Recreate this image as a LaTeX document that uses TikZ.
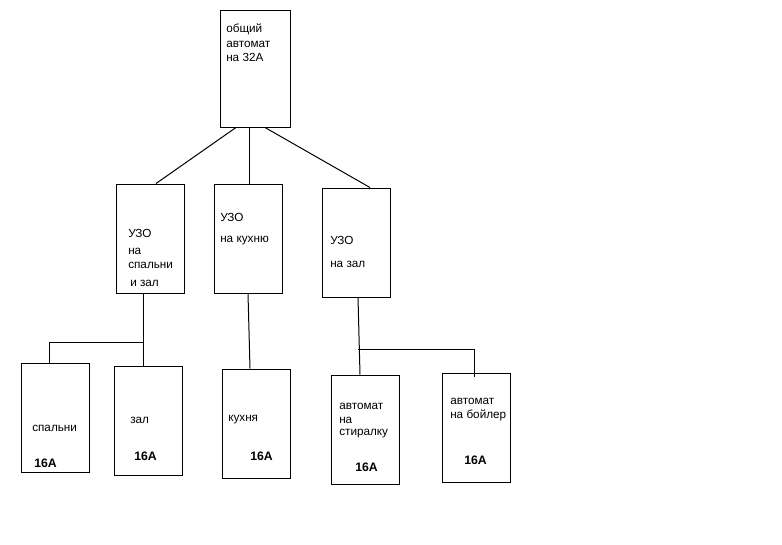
\documentclass[tikz,border=0pt]{standalone}
\usepackage{fontspec}
\setmainfont{Liberation Sans}
\begin{document}
\begin{tikzpicture}[x=0.75pt,y=-0.75pt,
  box/.style={draw,line width=0.75pt,inner sep=0pt},
  t/.style={anchor=west,inner sep=0pt,font=\fontsize{8.8}{9}\selectfont},
  a/.style={anchor=west,inner sep=0pt,font=\fontsize{9.2}{9}\selectfont\bfseries},
  w/.style={line width=0.75pt}]
\useasboundingbox[fill=white] (0,0) rectangle (782,544);
\node[box,minimum width=70*0.75pt,minimum height=117*0.75pt] (top) at (255,68.5) {};
\node[box,minimum width=68*0.75pt,minimum height=109*0.75pt] (u1) at (150,238.5) {};
\node[box,minimum width=68*0.75pt,minimum height=109*0.75pt] (u2) at (248,238.5) {};
\node[box,minimum width=68*0.75pt,minimum height=109*0.75pt] (u3) at (356,242.5) {};
\node[box,minimum width=68*0.75pt,minimum height=109*0.75pt] (b1) at (55,417.5) {};
\node[box,minimum width=68*0.75pt,minimum height=109*0.75pt] (b2) at (148,420.5) {};
\node[box,minimum width=68*0.75pt,minimum height=109*0.75pt] (b3) at (256,423.5) {};
\node[box,minimum width=68*0.75pt,minimum height=109*0.75pt] (b4) at (365,429.5) {};
\node[box,minimum width=68*0.75pt,minimum height=109*0.75pt] (b5) at (476,427.5) {};
% texts
\node[t] (t1) at (226,29) {общий};
\node[t] (t2) at (226,44) {автомат};
\node[t] (t3) at (226,57) {на 32А};
\node[t] (u1a) at (128,233) {УЗО};
\node[t] (u1b) at (128,251) {на};
\node[t] (u1c) at (128,265) {спальни};
\node[t] (u1d) at (130,283) {и зал};
\node[t] (u2a) at (220,217) {УЗО};
\node[t] (u2b) at (220,241) {на кухню};
\node[t] (u3a) at (330,240) {УЗО};
\node[t] (u3b) at (330,264) {на зал};
\node[t] (b1a) at (32,428) {спальни};
\node[a] (b1b) at (34,463) {16А};
\node[t] (b2a) at (130,420) {зал};
\node[a] (b2b) at (134,456) {16А};
\node[t] (b3a) at (228,420) {кухня};
\node[a] (b3b) at (250,456) {16А};
\node[t] (b4a) at (339,406) {автомат};
\node[t] (b4b) at (339,420) {на};
\node[t] (b4c) at (339,434) {стиралку};
\node[a] (b4d) at (355,467) {16А};
\node[t] (b5a) at (450,401) {автомат};
\node[t] (b5b) at (450,415) {на бойлер};
\node[a] (b5c) at (464,460) {16А};
% connectors
\coordinate (j1) at (143,342);
\coordinate (j1l) at (49,342);
\coordinate (j3) at (358,349);
\coordinate (j3r) at (474,349);
\draw[w] (top.south -| 236,0) -- (u1.north -| 156,0);
\draw[w] (top.south -| 249,0) -- (u2.north -| 249,0);
\draw[w] (top.south -| 265,0) -- (u3.north -| 370,0);
\draw[w] (u1.south -| j1) -- (b2.north -| j1);
\draw[w] (j1) -- (j1l) -- (b1.north -| j1l);
\draw[w] (u2.south) -- (b3.north -| 250,0);
\draw[w] (u3.south -| j3) -- (b4.north -| 360,0);
\draw[w] (j3) -- (j3r) -- ([yshift=-3pt]b5.north -| j3r);
\end{tikzpicture}
\end{document}
